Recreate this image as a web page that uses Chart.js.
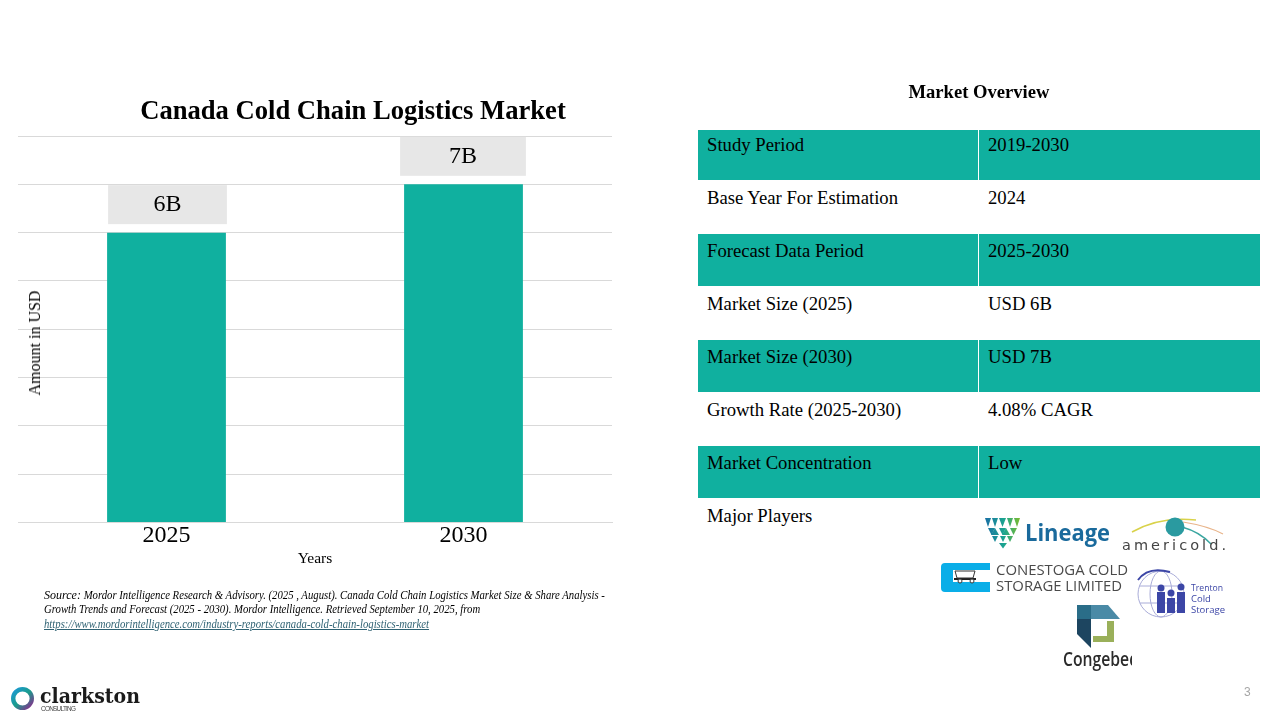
<!DOCTYPE html>
<html>
<head>
<meta charset="utf-8">
<title>Canada Cold Chain Logistics Market</title>
<script src="https://cdn.jsdelivr.net/npm/chart.js@4/dist/chart.umd.min.js"></script>
<style>
  html, body { margin: 0; padding: 0; background: #fff; }
  body { width: 1280px; height: 720px; position: relative; overflow: hidden; font-family: "Liberation Serif", serif; color: #000; }
  #chart { position: absolute; left: 0; top: 0; }
  .abs { position: absolute; white-space: nowrap; }
  #chart-title { left: 0; width: 706px; top: 94px; text-align: center; font-size: 26.6px; font-weight: bold; line-height: 32px; }
  #y-title { left: 35px; top: 343px; font-size: 16px; line-height: 16px; transform: translate(-50%, -50%) rotate(-90deg); }
  #source { left: 44px; top: 588px; font-size: 11.6px; line-height: 14.3px; font-style: italic; transform: scaleX(0.925); transform-origin: left top; }
  #source .first { font-size: 13px; }
  #source a { color: #2f6273; text-decoration: underline; }
  #table-title { left: 698px; width: 562px; top: 81px; text-align: center; font-size: 18.6px; font-weight: bold; line-height: 22px; }
  #overview { position: absolute; left: 698px; top: 130px; width: 562px; border-collapse: separate; border-spacing: 0; table-layout: fixed; font-size: 18.7px; }
  #overview td { height: 53px; padding: 5px 9px 0; box-sizing: border-box; vertical-align: top; line-height: 24px; border: 0; }
  #overview tr:first-child td { height: 51px; padding-top: 3px; }
  #overview td + td { border-left: 1px solid #fff; }
  #overview tr.band td { background: #10b09f; border-bottom: 1px solid #fff; }
  #page-no { left: 1244px; top: 685px; font-family: "Liberation Sans", sans-serif; font-size: 12px; color: #a6a6a6; }
  #logos { position: absolute; left: 0; top: 0; }
</style>
</head>
<body>
<canvas id="chart" width="640" height="590"></canvas>
<div class="abs" id="chart-title">Canada Cold Chain Logistics Market</div>
<div class="abs" id="y-title">Amount in USD</div>
<div class="abs" id="source"><span class="first">Source:</span> Mordor Intelligence Research &amp; Advisory. (2025 , August). Canada Cold Chain Logistics Market Size &amp; Share Analysis -<br>Growth Trends and Forecast (2025 - 2030). Mordor Intelligence. Retrieved September 10, 2025, from<br><a href="#">https://www.mordorintelligence.com/industry-reports/canada-cold-chain-logistics-market</a></div>

<div class="abs" id="table-title">Market Overview</div>
<table id="overview"><colgroup><col style="width:280px"><col></colgroup><tbody id="overview-body"></tbody></table>

<svg id="logos" width="1280" height="720" viewBox="0 0 1280 720">
  <defs>
    <linearGradient id="ring" x1="0" y1="0" x2="1" y2="1">
      <stop offset="0" stop-color="#1c9ad6"/><stop offset="0.5" stop-color="#1a9c8c"/><stop offset="1" stop-color="#8a2a8c"/>
    </linearGradient>
    <linearGradient id="shield" x1="985" y1="0" x2="1020" y2="0" gradientUnits="userSpaceOnUse">
      <stop offset="0" stop-color="#1a6fa5"/><stop offset="0.55" stop-color="#1ba58f"/><stop offset="1" stop-color="#7dbb2e"/>
    </linearGradient>
    <clipPath id="congebec-clip"><rect x="1055" y="645" width="77" height="30"/></clipPath>
  </defs>

  <!-- clarkston -->
  <circle cx="22.5" cy="698.5" r="9.3" fill="none" stroke="url(#ring)" stroke-width="4.4"/>
  <text x="40" y="703" font-family="DejaVu Serif" font-weight="bold" font-size="21" textLength="100" lengthAdjust="spacingAndGlyphs" fill="#1b1b1b">clarkston</text>
  <text x="41" y="711" font-family="Liberation Sans" font-size="6.4" textLength="35" lengthAdjust="spacing" fill="#444">CONSULTING</text>

  <!-- Lineage -->
  <g fill="url(#shield)">
    <polygon points="985,518 991,518 988,527"/><polygon points="992,518 998,518 995,527"/><polygon points="999,518 1006,518 1002.5,527"/><polygon points="1007,518 1013,518 1010,527"/><polygon points="1014,518 1020,518 1017,527"/>
    <polygon points="988,528 995,528 991.5,535"/><polygon points="999,528 1006,528 1002.5,535"/><polygon points="1010,528 1017,528 1013.5,535"/>
    <polygon points="995,528 999,535 991,535"/><polygon points="1006,528 1010,535 1002,535"/>
    <polygon points="992,536 998,536 995,542"/><polygon points="1000,536 1006,536 1003,542"/><polygon points="1007,536 1013,536 1010,542"/>
    <polygon points="999,543 1007,543 1003,548.5"/>
  </g>
  <text x="1025" y="541" font-family="Open Sans" font-weight="bold" font-size="23" textLength="85" lengthAdjust="spacingAndGlyphs" fill="#1a6a9c">Lineage</text>

  <!-- americold -->
  <path d="M1132 532 Q1160 516 1196 520" fill="none" stroke="#d9d24a" stroke-width="1.5"/>
  <path d="M1183 522 Q1208 526 1223 534" fill="none" stroke="#e8b48a" stroke-width="1.2"/>
  <path d="M1182 527 Q1200 532 1211 544" fill="none" stroke="#3aa6a0" stroke-width="1.4"/>
  <circle cx="1175" cy="527" r="9.5" fill="#2a9aa0"/>
  <text x="1122" y="550" font-family="DejaVu Sans" font-size="14.5" textLength="104" lengthAdjust="spacing" fill="#444">americold.</text>

  <!-- Conestoga -->
  <path d="M945 563 H990 V570 H953 V582 H990 V592 H945 Q941 592 941 588 V567 Q941 563 945 563 Z" fill="#0aaee8"/>
  <rect x="954" y="578" width="22" height="2" fill="#222"/>
  <path d="M955 571 H975 L973 578 H957 Z" fill="none" stroke="#333" stroke-width="1"/>
  <circle cx="960" cy="581" r="2" fill="#fff" stroke="#333"/><circle cx="972" cy="581" r="2" fill="#fff" stroke="#333"/>
  <text x="996" y="575" font-family="Open Sans" font-size="15" textLength="132" lengthAdjust="spacingAndGlyphs" fill="#4a4a4a">CONESTOGA COLD</text>
  <text x="996" y="591" font-family="Open Sans" font-size="15" textLength="126" lengthAdjust="spacingAndGlyphs" fill="#4a4a4a">STORAGE LIMITED</text>

  <!-- Trenton -->
  <g fill="none" stroke="#a9acd8" stroke-width="1">
    <circle cx="1161" cy="594" r="23"/><ellipse cx="1161" cy="594" rx="11" ry="23"/><path d="M1139 586 H1183 M1140 603 H1182"/>
  </g>
  <path d="M1138 580 Q1148 566 1170 572" fill="none" stroke="#3c46a6" stroke-width="2"/>
  <g fill="#3c46a6">
    <circle cx="1161" cy="588" r="3.5"/><circle cx="1171" cy="593" r="3.5"/><circle cx="1181" cy="587" r="3.5"/>
    <rect x="1157" y="592" width="8" height="21"/><rect x="1167" y="598" width="8" height="15"/><rect x="1177" y="592" width="8" height="21"/>
  </g>
  <text x="1191" y="591" font-family="Open Sans" font-size="9.5" textLength="32" lengthAdjust="spacingAndGlyphs" fill="#3c46a6">Trenton</text>
  <text x="1191" y="602" font-family="Open Sans" font-size="9.5" fill="#3c46a6">Cold</text>
  <text x="1191" y="613" font-family="Open Sans" font-size="9.5" textLength="34" lengthAdjust="spacingAndGlyphs" fill="#3c46a6">Storage</text>

  <!-- Congebec -->
  <polygon points="1077,605 1091,605 1091,619 1077,619" fill="#2a6d88"/>
  <polygon points="1091,605 1108,605 1120,619 1091,619" fill="#4a8aa6"/>
  <polygon points="1077,619 1091,619 1091,648 1077,634" fill="#1d4560"/>
  <polygon points="1107,621 1114,621 1114,642 1093,642 1093,636 1107,636" fill="#9ab05a"/>
  <text x="1063" y="666" clip-path="url(#congebec-clip)" font-family="Open Sans" font-weight="600" font-size="19" fill="#2b2b2b" textLength="74" lengthAdjust="spacingAndGlyphs">Congebec</text>
</svg>

<div class="abs" id="page-no">3</div>

<script>
// Chart data
const categories = ['2025', '2030'];
const marketValues = [6, 7];
const valueLabels = ['6B', '7B'];

// Overview table
const overviewLabels = ['Study Period', 'Base Year For Estimation', 'Forecast Data Period', 'Market Size (2025)', 'Market Size (2030)', 'Growth Rate (2025-2030)', 'Market Concentration', 'Major Players'];
const overviewValues = ['2019-2030', '2024', '2025-2030', 'USD 6B', 'USD 7B', '4.08% CAGR', 'Low', ''];

const teal = '#10b09f';
const gridGrey = '#d9d9d9';

// Fill table
const overviewBody = document.getElementById('overview-body');
overviewLabels.forEach((label, i) => {
    const row = document.createElement('tr');
    if (i % 2 === 0 && i < 7) row.className = 'band';
    const a = document.createElement('td');
    a.textContent = label;
    const b = document.createElement('td');
    b.textContent = overviewValues[i];
    row.appendChild(a);
    row.appendChild(b);
    overviewBody.appendChild(row);
});

// Grey value boxes above the bars, the boxes are not quite the bar width
const boxLeftGrow = [-1, 4];
const boxRightGrow = [1, 3];
const valueBoxes = {
    id: 'valueBoxes',
    afterDatasetsDraw(chart) {
        const ctx = chart.ctx;
        const bars = chart.getDatasetMeta(0).data;
        ctx.save();
        bars.forEach((bar, i) => {
            const left = bar.x - bar.width / 2 - boxLeftGrow[i];
            const right = bar.x + bar.width / 2 + boxRightGrow[i];
            ctx.fillStyle = '#e7e7e7';
            ctx.fillRect(left, bar.y - 47.5, right - left, 39);
            ctx.fillStyle = '#000';
            ctx.font = '24px "Liberation Serif"';
            ctx.textAlign = 'center';
            ctx.textBaseline = 'middle';
            ctx.fillText(valueLabels[i], (left + right) / 2, bar.y - 27.5);
        });
        ctx.restore();
    }
};

new Chart(document.getElementById('chart'), {
    type: 'bar',
    data: {
        labels: categories,
        datasets: [{
            data: marketValues,
            backgroundColor: teal,
            barPercentage: 0.4,
            categoryPercentage: 1
        }]
    },
    options: {
        responsive: false,
        animation: false,
        layout: { padding: { left: 18, right: 28, top: 136, bottom: 22 } },
        plugins: { legend: { display: false }, title: { display: false }, tooltip: { enabled: false } },
        scales: {
            x: {
                grid: { display: false },
                border: { color: gridGrey },
                ticks: { color: '#000', font: { family: 'Liberation Serif', size: 24 }, padding: -9, maxRotation: 0 },
                title: { display: true, text: 'Years', color: '#000', font: { family: 'Liberation Serif', size: 15.5 }, padding: { top: 8, bottom: 0 } }
            },
            y: {
                min: 0,
                max: 8,
                afterFit(scale) { scale.width = 0; },
                grid: { color: gridGrey, drawTicks: false },
                border: { display: false },
                ticks: { display: false, stepSize: 1 }
            }
        }
    },
    plugins: [valueBoxes]
});
</script>
</body>
</html>
